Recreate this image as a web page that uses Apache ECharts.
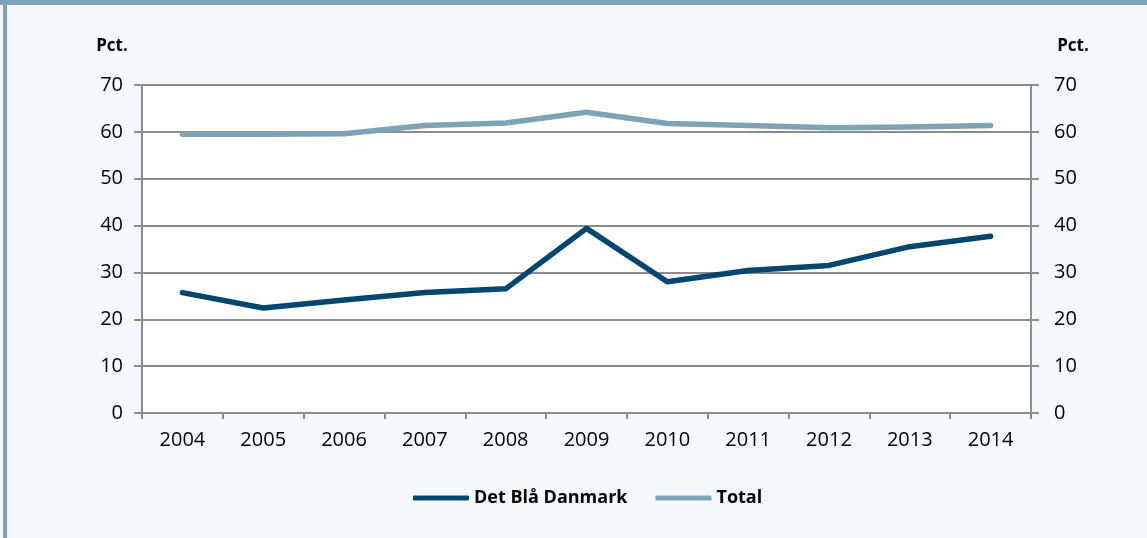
<!DOCTYPE html>
<html>
<head>
<meta charset="utf-8">
<script src="https://cdn.jsdelivr.net/npm/echarts@6/dist/echarts.min.js"></script>
<style>
  html, body { margin: 0; padding: 0; background: #f4f9fd; }
  #chart { width: 1147px; height: 538px; }
</style>
</head>
<body>
<div id="chart"></div>
<script>
const years = ['2004', '2005', '2006', '2007', '2008', '2009', '2010', '2011', '2012', '2013', '2014'];
const detBlaa = [25.7, 22.4, 24.1, 25.7, 26.5, 39.4, 28.0, 30.4, 31.5, 35.5, 37.7];
const total = [59.5, 59.5, 59.6, 61.35, 61.9, 64.2, 61.8, 61.35, 60.9, 61.05, 61.35];

const font = 'Open Sans';
const axisGrey = '#8c8c8c';

const chart = echarts.init(document.getElementById('chart'));

// shared look of the two value axes
function valueAxis(position) {
  const left = position === 'left';
  return {
    type: 'value',
    position: position,
    min: 0,
    max: 70,
    interval: 10,
    name: 'Pct.',
    nameLocation: 'end',
    nameGap: 30,
    nameTextStyle: {
      fontFamily: font,
      fontWeight: 'bold',
      fontSize: 17,
      color: '#000',
      padding: left ? [0, 60, 0, 0] : [0, 0, 0, 84]
    },
    axisLine: {show: true, lineStyle: {color: axisGrey, width: 2}},
    axisTick: {show: true, length: 8, lineStyle: {color: axisGrey, width: 2}},
    axisLabel: {
      fontFamily: font,
      fontSize: 20,
      color: '#000',
      margin: left ? 19 : 23
    },
    splitLine: {show: left, lineStyle: {color: axisGrey, width: 2}}
  };
}

chart.setOption({
  backgroundColor: '#f4f9fd',
  animation: false,
  graphic: [
    {type: 'rect', shape: {x: 0, y: 0, width: 1147, height: 5}, style: {fill: '#7ea2b8'}},
    {type: 'rect', shape: {x: 3, y: 0, width: 4, height: 538}, style: {fill: '#7ea2b8'}}
  ],
  grid: {
    left: 142,
    right: 116,
    top: 85,
    bottom: 125,
    show: true,
    backgroundColor: '#ffffff',
    borderWidth: 0
  },
  legend: {
    left: 408,
    top: 484,
    itemWidth: 56,
    itemHeight: 5,
    itemGap: 28,
    icon: 'roundRect',
    textStyle: {fontFamily: font, fontWeight: 'bold', fontSize: 18, color: '#000'},
    data: ['Det Blå Danmark', 'Total']
  },
  xAxis: {
    type: 'category',
    data: years,
    boundaryGap: true,
    axisLine: {lineStyle: {color: axisGrey, width: 2}},
    axisTick: {show: true, length: 6, lineStyle: {color: axisGrey, width: 2}},
    axisLabel: {fontFamily: font, fontSize: 20, color: '#000', margin: 17}
  },
  yAxis: [valueAxis('left'), valueAxis('right')],
  series: [
    {
      name: 'Det Blå Danmark',
      type: 'line',
      data: detBlaa,
      symbol: 'none',
      lineStyle: {color: '#00466e', width: 5.5, cap: 'round', join: 'round'},
      itemStyle: {color: '#00466e'},
      z: 3
    },
    {
      name: 'Total',
      type: 'line',
      data: total,
      symbol: 'none',
      lineStyle: {color: '#7ea2b8', width: 5.5, cap: 'round', join: 'round'},
      itemStyle: {color: '#7ea2b8'},
      z: 2
    }
  ]
});
</script>
</body>
</html>
